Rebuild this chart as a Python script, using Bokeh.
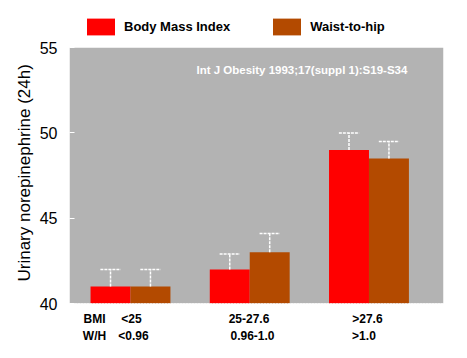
from bokeh.plotting import figure
from bokeh.models import Range1d, Label, Legend, LegendItem, FixedTicker, LinearAxis, Title
from bokeh.embed import file_html
from bokeh.resources import INLINE

# ---- data ----
groups = [1, 2, 3]
bmi_cats = ["<25", "25-27.6", ">27.6"]
wh_cats = ["<0.96", "0.96-1.0", ">1.0"]
bmi_values = [41.0, 42.0, 49.0]
bmi_upper = [42.0, 42.9, 50.0]
wh_values = [41.0, 43.0, 48.5]
wh_upper = [42.0, 44.1, 49.5]
y_ticks = [40, 45, 50, 55]
series_names = ["Body Mass Index", "Waist-to-hip"]
row_names = ["BMI", "W/H"]
y_title = "Urinary norepinephrine (24h)"
citation = "Int J Obesity 1993;17(suppl 1):S19-S34"

FONT = "Liberation Sans"
RED = "#ff0000"
BROWN = "#b34a00"
GRAY = "#b3b3b3"

Y_MIN, Y_MAX = 40, 55
X0, X1 = 0.4885, 3.625
bw = 0.335
off = bw / 2
cap = 0.085

# frame extends above the grey plotting area to hold the legend
p = figure(width=451, height=345, output_backend="svg", toolbar_location=None,
           x_range=Range1d(X0, X1), y_range=Range1d(Y_MIN, Y_MAX + 47 / 17),
           min_border_left=69, min_border_right=8, min_border_top=0, min_border_bottom=40)
p.background_fill_color = "white"
p.border_fill_color = "white"
p.outline_line_color = None
p.grid.visible = False
p.xaxis.visible = False

p.quad(left=[X0], right=[X1], bottom=[Y_MIN], top=[Y_MAX], fill_color=GRAY, line_color=None)

ya = p.yaxis[0]
ya.ticker = FixedTicker(ticks=y_ticks)
ya.axis_line_color = None
ya.major_tick_in = 5
ya.major_tick_out = 0
ya.major_tick_line_color = "white"
ya.minor_tick_line_color = None
ya.major_label_text_font = FONT
ya.major_label_text_font_size = "16px"
ya.major_label_text_color = "black"
ya.major_label_standoff = 12

# y title as a side title, positioned along the grey area
p.add_layout(Title(text=y_title, align="left", offset=22, standoff=5,
                   text_font=FONT, text_font_size="17px", text_font_style="normal",
                   text_color="black"), "left")

bx = [g - off for g in groups]
wx = [g + off for g in groups]
r1 = p.vbar(x=bx, top=bmi_values, bottom=Y_MIN, width=bw, fill_color=RED, line_color=None)
r2 = p.vbar(x=wx, top=wh_values, bottom=Y_MIN, width=bw, fill_color=BROWN, line_color=None)

for xs, lo, hi in ((bx, bmi_values, bmi_upper), (wx, wh_values, wh_upper)):
    p.segment(x0=xs, y0=lo, x1=xs, y1=hi, line_color="white", line_width=1.5, line_dash="3 1")
    p.segment(x0=[x - cap for x in xs], y0=hi, x1=[x + cap for x in xs], y1=hi,
              line_color="white", line_width=1.5, line_dash="3 1")

# category label rows as two stacked bottom axes
row1_x = [0.698, 1.008, 1.994, 2.987]
row2_x = [0.698, 1.025, 2.023, 2.958]
row1_labels = [row_names[0]] + bmi_cats
row2_labels = [row_names[1]] + wh_cats

def cat_axis(xs, labels, standoff, line_color):
    return LinearAxis(ticker=FixedTicker(ticks=xs),
                      major_label_overrides={x: t for x, t in zip(xs, labels)},
                      major_tick_in=0, major_tick_out=0, minor_tick_line_color=None,
                      major_label_text_font=FONT, major_label_text_font_style="bold",
                      major_label_text_font_size="12px", major_label_text_color="black",
                      major_label_standoff=standoff, axis_line_color=line_color)

ax1 = cat_axis(row1_x, row1_labels, 8, "white")
ax1.axis_line_dash = "1 2"
ax2 = cat_axis(row2_x, row2_labels, 0, None)
p.add_layout(ax1, "below")
p.add_layout(ax2, "below")

legend = Legend(items=[LegendItem(label=series_names[0], renderers=[r1]),
                       LegendItem(label=series_names[1], renderers=[r2])],
                location=(14, 266), orientation="horizontal",
                glyph_width=35, glyph_height=21, label_standoff=6, spacing=39,
                padding=0, margin=0, background_fill_alpha=0, border_line_color=None,
                label_text_font=FONT, label_text_font_style="bold", label_text_font_size="13px",
                label_text_color="black", label_height=21)
p.add_layout(legend, "center")

p.add_layout(Label(x=1.553, y=53.7, text=citation, text_color="white", text_font=FONT,
                   text_font_style="bold", text_font_size="11.5px", text_baseline="middle"))

open("out.html", "w").write(file_html(p, INLINE))
